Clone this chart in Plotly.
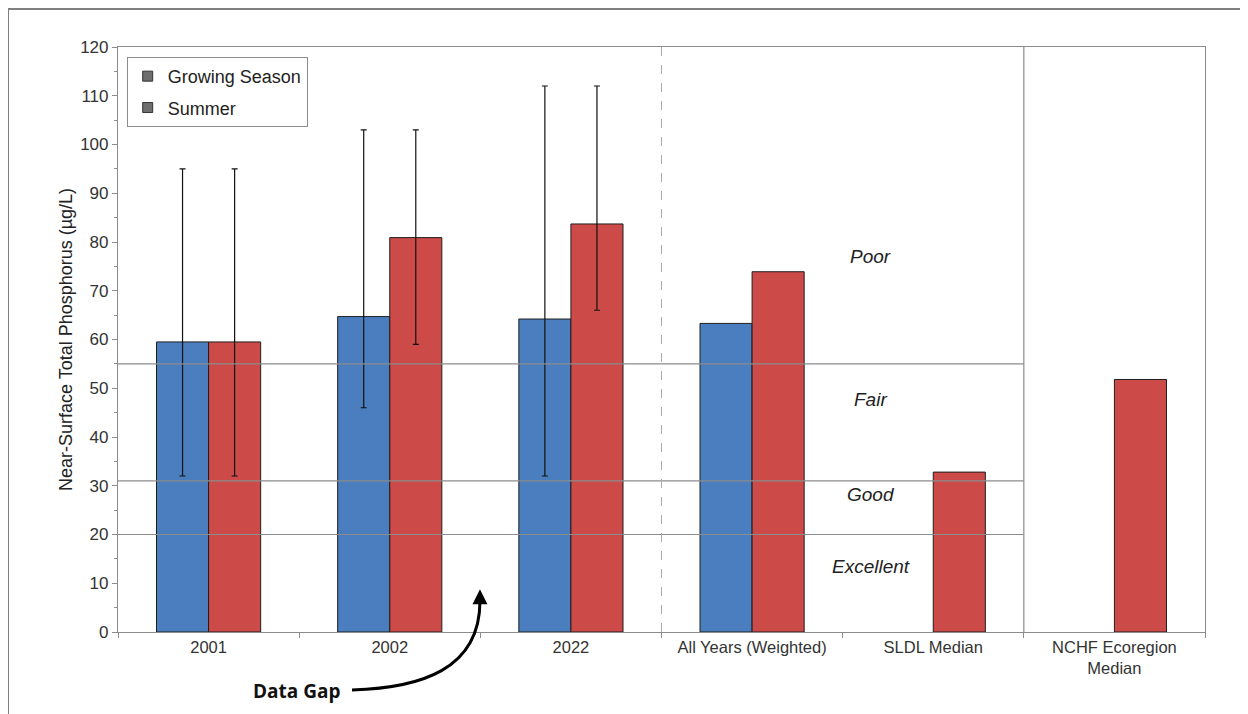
import plotly.graph_objects as go

categories = ["2001", "2002", "2022", "All Years (Weighted)", "SLDL Median", "NCHF Ecoregion<br>Median"]
growing_season = [59.5, 64.7, 64.2, 63.3, None, None]
summer = [59.5, 80.9, 83.7, 73.9, 32.8, 51.8]
gs_err_high = [95, 103, 112, None, None, None]
gs_err_low = [32, 46, 32, None, None, None]
su_err_high = [95, 103, 112, None, None, None]
su_err_low = [32, 59, 66, None, None, None]
thresholds = [20, 31, 55]
class_labels = ["Excellent", "Good", "Fair", "Poor"]
class_label_y = [13.5, 28.3, 47.6, 77]
y_ticks = list(range(0, 121, 10))

BLUE = "#4a7ebf"
RED = "#cc4b48"

fig = go.Figure()


def add_series(vals, highs, lows, color, group):
    with_err = [i for i, h in enumerate(highs) if h is not None and vals[i] is not None]
    no_err = [i for i, h in enumerate(highs) if h is None and vals[i] is not None]
    fig.add_trace(go.Bar(
        x=[categories[i] for i in with_err], y=[vals[i] for i in with_err],
        offsetgroup=group, showlegend=False,
        marker=dict(color=color, line=dict(color="#1e1e1e", width=1)),
        error_y=dict(type="data", symmetric=False,
                     array=[highs[i] - vals[i] for i in with_err],
                     arrayminus=[vals[i] - lows[i] for i in with_err],
                     color="#111111", thickness=1.2, width=3),
    ))
    fig.add_trace(go.Bar(
        x=[categories[i] for i in no_err], y=[vals[i] for i in no_err],
        offsetgroup=group, showlegend=False,
        marker=dict(color=color, line=dict(color="#1e1e1e", width=1)),
    ))


add_series(growing_season, gs_err_high, gs_err_low, BLUE, "gs")
add_series(summer, su_err_high, su_err_low, RED, "su")

# legend-only entries (grey squares as in the reference)
for i, nm in enumerate(["Growing Season", "Summer"]):
    fig.add_trace(go.Scatter(
        x=[None], y=[None], mode="markers", name=nm, legendgroup="g%d" % i,
        marker=dict(symbol="square", size=10, color="#6e6e6e",
                    line=dict(color="#333333", width=1)),
    ))

shapes = []
for t in thresholds:
    shapes.append(dict(type="line", xref="x", yref="y", x0=-0.5, x1=4.5, y0=t, y1=t,
                       line=dict(color="#8c8c8c", width=1.2), layer="above"))
shapes.append(dict(type="line", xref="x", yref="paper", x0=2.5, x1=2.5, y0=0, y1=1,
                   line=dict(color="#ababab", width=1, dash="dash")))
shapes.append(dict(type="line", xref="x", yref="paper", x0=4.5, x1=4.5, y0=0, y1=1,
                   line=dict(color="#8c8c8c", width=1.2)))
shapes.append(dict(type="rect", xref="paper", yref="paper", x0=-0.1012, x1=1.06, y0=-0.2, y1=1.065,
                   line=dict(color="#7f7f7f", width=2), fillcolor="rgba(0,0,0,0)", layer="below"))
shapes.append(dict(type="path", xref="paper", yref="paper",
                   path="M 0.2153,-0.0991 C 0.2778,-0.0957 0.3330,-0.0650 0.3330,0.0530",
                   line=dict(color="#000000", width=3)))

annotations = []
for lab, yv in zip(class_labels, class_label_y):
    annotations.append(dict(x=0.6925, xref="paper", y=yv, yref="y", text="<i>%s</i>" % lab,
                            xanchor="center", yanchor="middle", showarrow=False,
                            font=dict(family="Liberation Sans, Arial", size=19, color="#222222")))
annotations.append(dict(x=0.1638, xref="paper", y=-0.1009, yref="paper", text="<b>Data Gap</b>",
                        xanchor="center", yanchor="middle", showarrow=False,
                        font=dict(family="Open Sans, Lato", size=19, color="#111111")))
annotations.append(dict(x=0.3330, xref="paper", y=0.073, yref="paper", text="", showarrow=True,
                        ax=0, ay=14, arrowhead=2, arrowsize=1, arrowwidth=3, arrowcolor="#000000"))

fig.update_layout(
    width=1248, height=714,
    margin=dict(l=110, r=51, t=39, b=90),
    paper_bgcolor="white", plot_bgcolor="white",
    barmode="group", bargap=0.425, bargroupgap=0,
    font=dict(family="Liberation Sans, Arial", size=17, color="#333333"),
    shapes=shapes, annotations=annotations,
    legend=dict(x=0.008, y=0.983, xanchor="left", yanchor="top",
                bgcolor="white", bordercolor="#8c8c8c", borderwidth=1,
                font=dict(size=18, color="#222222"), itemwidth=30, tracegroupgap=5),
    xaxis=dict(type="category", categoryorder="array", categoryarray=categories,
               showline=True, linecolor="#8c8c8c", linewidth=1.2, mirror=True,
               ticks="outside", tickson="boundaries", ticklen=5, tickcolor="#8c8c8c",
               showgrid=False, tickfont=dict(size=16.5, color="#333333"), range=[-0.5, 5.5]),
    yaxis=dict(range=[0, 120], tickvals=y_ticks, showline=True, linecolor="#8c8c8c", linewidth=1.2,
               mirror=True, ticks="outside", ticklen=5, tickcolor="#8c8c8c", showgrid=False,
               zeroline=False, tickfont=dict(size=17, color="#333333"),
               minor=dict(dtick=5, ticks="outside", ticklen=3, tickcolor="#8c8c8c"),
               title=dict(text="Near-Surface Total Phosphorus (µg/L)", font=dict(size=18, color="#222222"),
                          standoff=2)),
)

fig.write_html("out.html")
